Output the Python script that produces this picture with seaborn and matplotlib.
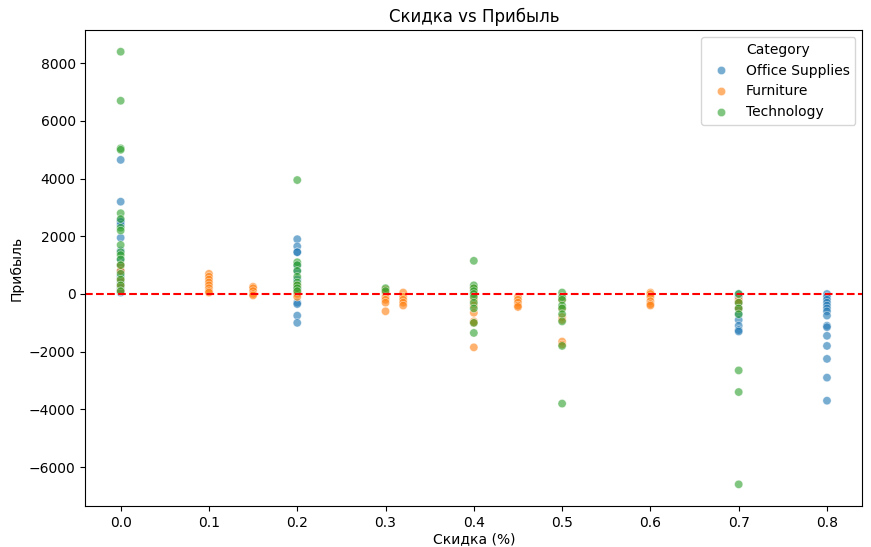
import matplotlib
matplotlib.use("Agg")
import matplotlib.pyplot as plt
import seaborn as sns
import pandas as pd

office = {
    0.0: [4650, 3200, 2550, 2500, 2400, 1950, 1500, 1200, 1000, 800, 600, 400, 200, 100, 50],
    0.2: [1900, 1650, 1450, 1450, 1000, 800, 500, 200, 50, -300, -350, -750, -1000],
    0.7: [0, -100, -300, -500, -700, -900, -1100, -1250, -1300],
    0.8: [0, -100, -200, -300, -400, -500, -600, -750, -1100, -1150, -1450, -1800, -2250, -2900, -3700],
}
furniture = {
    0.0: [1000, 800, 500, 300, 100],
    0.1: [700, 600, 500, 400, 300, 200, 100, 50],
    0.15: [250, 200, 100, 0, -50],
    0.2: [300, 100, 0, -100],
    0.3: [150, 50, -100, -200, -300, -600],
    0.32: [50, -100, -200, -300, -400],
    0.4: [200, 0, -200, -400, -650, -950, -1000, -1850],
    0.45: [-100, -200, -300, -400, -450],
    0.5: [-200, -500, -800, -900, -1650, -1750],
    0.6: [50, 0, -100, -250, -350, -400],
    0.7: [-200, -300, -500],
}
technology = {
    0.0: [8400, 6700, 5050, 5000, 2800, 2600, 2300, 2200, 1700, 1450, 1350, 1200, 1000, 700, 500, 300, 100],
    0.2: [3950, 1100, 1000, 800, 600, 400, 300, 200, 100],
    0.3: [200, 100],
    0.4: [1150, 300, 200, 100, 0, -100, -300, -500, -1000, -1350],
    0.5: [50, -100, -200, -400, -500, -700, -950, -1800, -3800],
    0.7: [0, -300, -500, -700, -2650, -3400, -6600],
}

rows = []
for cat, d in [("Office Supplies", office), ("Furniture", furniture), ("Technology", technology)]:
    for disc, vals in d.items():
        for v in vals:
            rows.append({"Discount": disc, "Profit": v, "Category": cat})
df = pd.DataFrame(rows)

fig, ax = plt.subplots(figsize=(8.71, 5.47), dpi=100)
sns.scatterplot(data=df, x="Discount", y="Profit", hue="Category",
                hue_order=["Office Supplies", "Furniture", "Technology"],
                alpha=0.6, ax=ax)
ax.axhline(0, color="red", linestyle="--")
ax.set_title("Скидка vs Прибыль")
ax.set_xlabel("Скидка (%)", labelpad=2)
ax.set_ylabel("Прибыль")
plt.subplots_adjust(left=0.098, right=0.99, top=0.945, bottom=0.075)
fig.savefig("out.png", dpi=100)
